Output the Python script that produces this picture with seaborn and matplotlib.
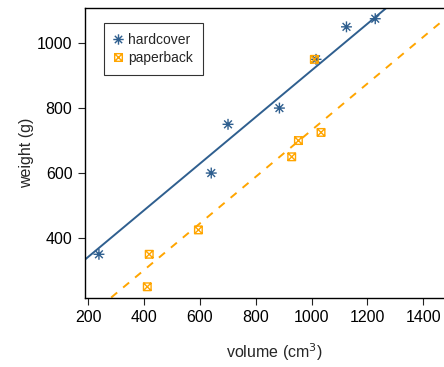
import numpy as np
import pandas as pd
import matplotlib
matplotlib.use("Agg")
import matplotlib.pyplot as plt
from matplotlib.path import Path
from matplotlib.lines import Line2D
import seaborn as sns

# allbacks data
hb_volume = [885, 1016, 1125, 239, 701, 641, 1228]
hb_weight = [800, 950, 1050, 350, 750, 600, 1075]
pb_volume = [412, 953, 929, 1492, 419, 1010, 595, 1034]
pb_weight = [250, 700, 650, 975, 350, 950, 425, 725]
cover_labels = ["hardcover", "paperback"]
x_ticks = [200, 400, 600, 800, 1000, 1200, 1400]
y_ticks = [400, 600, 800, 1000]

df = pd.DataFrame({
    "volume": hb_volume + pb_volume,
    "weight": hb_weight + pb_weight,
    "cover": [cover_labels[0]] * len(hb_volume) + [cover_labels[1]] * len(pb_volume),
})

# parallel-slopes fit: weight ~ volume + cover
X = np.column_stack([np.ones(len(df)), df["volume"], (df["cover"] == cover_labels[1]).astype(float)])
coef, *_ = np.linalg.lstsq(X, df["weight"].to_numpy(float), rcond=None)
b0, b1, b2 = coef

sns.set_theme(style="ticks")
plt.rcParams["font.family"] = ["Liberation Sans", "DejaVu Sans"]

BLUE = "#2F5F8F"
ORANGE = "#FFA500"

fig = plt.figure(figsize=(4.44, 3.67), dpi=100)
ax = fig.add_axes([85 / 444, 1 - 297.5 / 367, (463 - 85) / 444, (297.5 - 8) / 367])

ast = Path([(0, -1), (0, 1), (-1, 0), (1, 0), (-0.707, -0.707), (0.707, 0.707), (-0.707, 0.707), (0.707, -0.707)],
           [Path.MOVETO, Path.LINETO, Path.MOVETO, Path.LINETO, Path.MOVETO, Path.LINETO, Path.MOVETO, Path.LINETO])
sqx = Path([(-1, -1), (1, -1), (1, 1), (-1, 1), (-1, -1), (-1, -1), (1, 1), (-1, 1), (1, -1)],
           [Path.MOVETO, Path.LINETO, Path.LINETO, Path.LINETO, Path.CLOSEPOLY, Path.MOVETO, Path.LINETO, Path.MOVETO, Path.LINETO])

hb = df[df["cover"] == cover_labels[0]]
pb = df[df["cover"] == cover_labels[1]]
sns.scatterplot(x=hb["volume"], y=hb["weight"], marker=ast, s=62, facecolors="none", edgecolor=BLUE,
                color=BLUE, linewidth=1.0, zorder=3, ax=ax)
sns.scatterplot(x=pb["volume"], y=pb["weight"], marker=sqx, s=30, facecolors="none", edgecolor=ORANGE,
                color=ORANGE, linewidth=1.0, zorder=3, ax=ax)

ax.axline((0, b0), slope=b1, color=BLUE, lw=1.4, zorder=2)
ax.axline((0, b0 + b2), slope=b1, color=ORANGE, lw=1.4, ls=(0, (4, 4)), zorder=2)

ax.set_xlim(189.1, 1542.1)
ax.set_ylim(217, 1108)
ax.set_xticks(x_ticks)
ax.set_yticks(y_ticks)
ax.tick_params(axis="both", labelsize=11.5, length=5, width=0.8, colors="#222222", labelcolor="black", pad=4)
for s in ax.spines.values():
    s.set_linewidth(1.0)
    s.set_color("black")
ax.set_xlabel("volume (cm$^3$)", fontsize=11.5, labelpad=12)
ax.set_ylabel("weight (g)", fontsize=11.5)
ax.yaxis.set_label_coords(-0.135, 0.5)

handles = [
    Line2D([], [], ls="none", marker=ast, markersize=7.5, markerfacecolor="none", markeredgecolor=BLUE, markeredgewidth=1.0),
    Line2D([], [], ls="none", marker=sqx, markersize=5.5, markerfacecolor="none", markeredgecolor=ORANGE, markeredgewidth=1.0),
]
leg = ax.legend(handles, cover_labels, loc="upper left", bbox_to_anchor=((104 - 85) / 378, 1 - (23 - 8) / 289.5),
                frameon=True, fancybox=False, fontsize=10.0, handlelength=0.6, handletextpad=0.45,
                borderpad=0.7, labelspacing=0.3, borderaxespad=0)
leg.get_frame().set_edgecolor("black")
leg.get_frame().set_linewidth(0.8)

fig.savefig("out.png", dpi=100)
